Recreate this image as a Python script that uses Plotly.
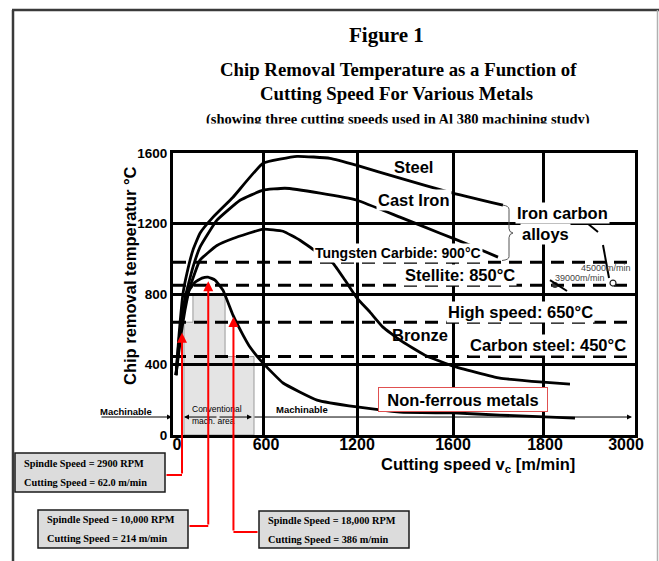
import numpy as np
import plotly.graph_objects as go

W, H = 659, 561

# ---------------- axis definitions (non-linear speed axis) ----------------
SPEED_TICKS = [0, 600, 1200, 1600, 1800, 3000]
SPEED_TICK_TEXT = ["0", "600", "1200", "1600", "1800", "3000"]
TICK_POS = [0, 90, 184, 280, 370, 462]          # drawn position of each speed tick (grid)
TICK_LABEL_POS = [4, 93, 184, 280, 372, 453]    # drawn position of each tick label
TEMP_TICKS = [0, 400, 800, 1200, 1600]
TEMP_TICK_TEXT = ["0", "400", "800", "1200", "1600"]

# ---------------- curves (cutting speed m/min, temperature °C) ----------------
steel_speed = [20, 40, 67, 93, 133, 180, 267, 400, 600, 817, 1028, 1200, 1379, 1587, 1711]
steel_temp = [340, 567, 805, 918, 1049, 1145, 1236, 1349, 1542, 1581, 1570, 1530, 1457, 1377, 1304]

cast_iron_speed = [20, 47, 80, 133, 180, 293, 447, 600, 740, 964, 1200, 1379, 1546, 1638, 1700]
cast_iron_temp = [340, 567, 777, 952, 1066, 1219, 1332, 1389, 1400, 1372, 1332, 1236, 1145, 1077, 1009]

bronze_speed = [20, 53, 80, 113, 180, 293, 400, 600, 728, 836, 919, 1047, 1123, 1200,
                1254, 1308, 1379, 1483, 1600, 1704, 1800, 2152]
bronze_temp = [340, 567, 709, 839, 992, 1075, 1115, 1168, 1156, 1105, 1054, 975, 879, 777,
               697, 612, 538, 453, 391, 323, 300, 289]

nonferrous_speed = [20, 40, 67, 100, 147, 193, 233, 280, 333, 400, 467, 513, 600, 728,
                    945, 1200, 1379, 1600, 1704, 2217]
nonferrous_temp = [340, 538, 709, 811, 867, 890, 896, 879, 822, 680, 567, 499, 408, 295,
                   198, 159, 130, 125, 113, 96]

# tool material limits (as drawn)
limit_temps = [980, 850, 640, 445]

# conventional machining area (speed, temperature outline)
conv_speed = [73, 73, 133, 133, 347, 347, 540, 540]
conv_temp = [0, 640, 640, 800, 800, 445, 445, 0]

# study cutting speeds (red arrows, as drawn) and box texts
arrow_speed = [60, 235, 403]
arrow_tip_temp = [580, 873, 669]
spindle_text = ["2900 RPM", "10,000 RPM", "18,000 RPM"]
cutting_text = ["62.0 m/min", "214 m/min", "386 m/min"]

SANS = "Liberation Sans, Arial, sans-serif"
SERIF = "Liberation Serif, Times New Roman, serif"


def pos(speed):
    return np.interp(speed, SPEED_TICKS, TICK_POS)


def py(pixel_y):
    return 1 - pixel_y / H


def px(pixel_x):
    return pixel_x / W


fig = go.Figure()

# limit lines
for t in limit_temps:
    fig.add_trace(go.Scatter(x=[TICK_POS[0], TICK_POS[-1]], y=[t, t], mode="lines",
                             line=dict(color="black", width=3, dash="13px,8px"),
                             hoverinfo="skip", showlegend=False))

# curves
for sp, tp in [(steel_speed, steel_temp), (cast_iron_speed, cast_iron_temp),
               (bronze_speed, bronze_temp), (nonferrous_speed, nonferrous_temp)]:
    fig.add_trace(go.Scatter(x=pos(sp), y=tp, mode="lines",
                             line=dict(color="black", width=2.8, shape="spline", smoothing=0.35),
                             hoverinfo="skip", showlegend=False))

# small markers near "Iron carbon alloys"
fig.add_trace(go.Scatter(x=[382], y=[851], mode="markers",
                         marker=dict(color="#333", size=6), showlegend=False, hoverinfo="skip"))
fig.add_trace(go.Scatter(x=[440], y=[862], mode="markers",
                         marker=dict(color="white", size=6, line=dict(color="#222", width=1.2)),
                         showlegend=False, hoverinfo="skip"))
# invisible trace carrying the tick-label axis
fig.add_trace(go.Scatter(x=[TICK_POS[0]], y=[0], xaxis="x2", mode="markers",
                         marker=dict(opacity=0), showlegend=False, hoverinfo="skip"))

shapes = []
# conventional machining area
cp = pos(conv_speed)
path = "M " + " L ".join(f"{x:.2f},{y}" for x, y in zip(cp, conv_temp)) + " Z"
shapes.append(dict(type="path", path=path, xref="x", yref="y", layer="below",
                   fillcolor="#e4e4e4", line=dict(color="#9a9a9a", width=1)))
# brace
shapes.append(dict(type="path", xref="x", yref="y", layer="above",
                   path="M 330,1304 Q 336,1300 336,1280 L 336,1172 Q 336,1150 340,1146 "
                        "Q 336,1142 336,1120 L 336,1012 Q 336,994 329,990",
                   line=dict(color="#555", width=1)))
# leftover segments
for (x0, y0, x1, y1) in [(414, 1203, 425, 1152), (430, 1078, 436, 891), (377, 879, 394, 817)]:
    shapes.append(dict(type="line", xref="x", yref="y", x0=x0, y0=y0, x1=x1, y1=y1,
                       line=dict(color="black", width=2)))

# page frame
shapes.append(dict(type="line", xref="paper", yref="paper", x0=px(13), x1=px(13), y0=0, y1=py(10),
                   line=dict(color="#3a3a3a", width=2.5)))
shapes.append(dict(type="line", xref="paper", yref="paper", x0=px(12), x1=1, y0=py(10), y1=py(10),
                   line=dict(color="#3a3a3a", width=2.5)))
shapes.append(dict(type="line", xref="paper", yref="paper", x0=px(657.5), x1=px(657.5), y0=0, y1=py(10),
                   line=dict(color="#b0b0b0", width=1.5)))

# info boxes
boxes = [(15, 453, 165, 492), (38, 510, 188, 548), (259, 511, 409, 548)]
for (x0, y0, x1, y1) in boxes:
    shapes.append(dict(type="rect", xref="paper", yref="paper", x0=px(x0), x1=px(x1),
                       y0=py(y1), y1=py(y0), fillcolor="#dcdcdc",
                       line=dict(color="#1a1a1a", width=1.5)))

ann = []


def txt(text, x, y, size, xref="paper", yref="paper", family=SANS, bg=None, xanchor="center",
        color="black", **kw):
    d = dict(text=text, x=x, y=y, xref=xref, yref=yref, showarrow=False,
             font=dict(family=family, size=size, color=color), xanchor=xanchor, yanchor="middle")
    if bg:
        d.update(bgcolor=bg, borderpad=1)
    d.update(kw)
    ann.append(d)


# titles
txt("<b>Figure 1</b>", px(386), py(35), 21, family=SERIF)
txt("<b>Chip Removal Temperature as a Function of</b>", px(398), py(70), 18.8, family=SERIF)
txt("<b>Cutting Speed For Various Metals</b>", px(396), py(93), 18.8, family=SERIF)
txt("<b>(showing three cutting speeds used in Al 380 machining study)</b>", px(398), py(119), 14.5,
    family=SERIF)
# crop of the subtitle bottom (as in the scan)
ann.append(dict(text=" ", x=px(398), y=py(123), xref="paper", yref="paper", showarrow=False,
                bgcolor="white", width=420, height=8, yanchor="top", font=dict(size=4)))

# axis titles
txt("<b>Chip removal temperatur °C</b>", px(130), py(276), 16.5, textangle=-90)
txt("<b>Cutting speed v<sub>c</sub> [m/min]</b>", px(478), py(465), 16.5)

# curve & limit labels (data coordinates)
txt("<b>Steel</b>", 240, 1521, 16.5, xref="x", yref="y")
txt("<b>Cast Iron</b>", 241, 1333, 16.5, xref="x", yref="y", bg="white")
txt("<b>Iron carbon</b>", 342, 1262, 16.5, xref="x", yref="y", bg="white", xanchor="left")
txt("<b>alloys</b>", 347, 1142, 16.5, xref="x", yref="y", bg="white", xanchor="left")
txt("<b>Tungsten Carbide: 900°C</b>", 225, 1035, 14, xref="x", yref="y", bg="white")
txt("<b>Stellite: 850°C</b>", 287, 908, 16.5, xref="x", yref="y", bg="white")
txt("<b>High speed: 650°C</b>", 347, 700, 16.5, xref="x", yref="y", bg="white")
txt("<b>Bronze</b>", 247, 567, 16.5, xref="x", yref="y")
txt("<b>Carbon steel: 450°C</b>", 375, 511, 16.5, xref="x", yref="y", bg="white")
ann.append(dict(text="<b>Non-ferrous metals</b>", x=290, y=203, xref="x", yref="y", showarrow=False,
                font=dict(family=SANS, size=16.5, color="black"), bgcolor="white",
                bordercolor="#e05050", borderwidth=1, borderpad=2, width=164, height=19))
txt("45000m/min", 433, 950, 9, xref="x", yref="y", color="#444")
txt("39000m/min", 407, 893, 9, xref="x", yref="y", color="#444")

# machinable zones
txt("<b>Machinable</b>", px(126), py(411), 9.5)
txt("<b>Machinable</b>", 129, 145, 9.5, xref="x", yref="y")
txt("Conventional", 44, 150, 8.5, xref="x", yref="y")
txt("mach. area", 40, 80, 8.5, xref="x", yref="y")
arrow_common = dict(text="", showarrow=True, arrowhead=2, arrowsize=1, arrowwidth=1,
                    arrowcolor="black", standoff=0, startstandoff=0, font=dict(size=1))
ann.append(dict(x=px(172), y=py(417), xref="paper", yref="paper", ax=-72, ay=0, **arrow_common))
ann.append(dict(x=11, y=102, xref="x", yref="y", ax=45, ay=102, axref="x", ayref="y", **arrow_common))
ann.append(dict(x=79, y=102, xref="x", yref="y", ax=45, ay=102, axref="x", ayref="y", **arrow_common))
ann.append(dict(x=459, y=102, xref="x", yref="y", ax=80, ay=102, axref="x", ayref="y", **arrow_common))

# red arrows and connectors
arrow_low_temp = [-227, -516, -550]
connector_py = [475, 526, 532]
box_edge_pos = [-8, 15, 86]
for i in range(3):
    xp = float(pos(arrow_speed[i]))
    ann.append(dict(x=xp, y=arrow_tip_temp[i], xref="x", yref="y", ax=xp, ay=arrow_low_temp[i],
                    axref="x", ayref="y", text="", showarrow=True, arrowhead=2, arrowsize=1,
                    arrowwidth=2, arrowcolor="#ff0000", standoff=0, startstandoff=0,
                    font=dict(size=1)))
    ann.append(dict(x=xp, y=py(connector_py[i]), xref="x", yref="paper", ax=box_edge_pos[i], ay=0,
                    axref="x", ayref="pixel", text="", showarrow=True, arrowhead=0,
                    arrowwidth=2, arrowcolor="#ff0000", standoff=0, startstandoff=0,
                    font=dict(size=1)))

# box texts
for i, (x0, y0, x1, y1) in enumerate(boxes):
    mid = (y0 + y1) / 2
    txt(f"<b>Spindle Speed = {spindle_text[i]}</b>", px(x0 + 7), py(mid - 9.5), 10.3,
        family=SERIF, xanchor="left")
    txt(f"<b>Cutting Speed = {cutting_text[i]}</b>", px(x0 + 7), py(mid + 9.5), 10.3,
        family=SERIF, xanchor="left")

fig.update_layout(
    width=W, height=H, margin=dict(l=0, r=0, t=0, b=0, autoexpand=False), autosize=False,
    paper_bgcolor="white", plot_bgcolor="white", showlegend=False,
    shapes=shapes, annotations=ann,
    xaxis=dict(domain=[173 / W, 635 / W], range=[TICK_POS[0], TICK_POS[-1]], automargin=False,
               tickvals=TICK_POS, showticklabels=False, showgrid=True, gridcolor="black",
               gridwidth=3, showline=True, linecolor="black", linewidth=3, mirror=True,
               ticks="", zeroline=False, fixedrange=True),
    xaxis2=dict(overlaying="x", anchor="y", side="bottom", range=[TICK_POS[0], TICK_POS[-1]],
                automargin=False, tickvals=TICK_LABEL_POS, ticktext=SPEED_TICK_TEXT,
                showgrid=False, showline=False, zeroline=False, ticks="", fixedrange=True,
                ticklabelstandoff=-2,
                tickfont=dict(family=SANS, size=16, color="black", weight="bold")),
    yaxis=dict(domain=[1 - 435 / H, 1 - 153 / H], range=[0, 1600], tickvals=TEMP_TICKS,
               automargin=False,
               ticktext=TEMP_TICK_TEXT, showgrid=True, gridcolor="black", gridwidth=2.5,
               showline=True, linecolor="black", linewidth=3, mirror=True, ticks="",
               zeroline=False, fixedrange=True,
               tickfont=dict(family=SANS, size=13.5, color="black", weight="bold")),
)

fig.write_html("out.html")
